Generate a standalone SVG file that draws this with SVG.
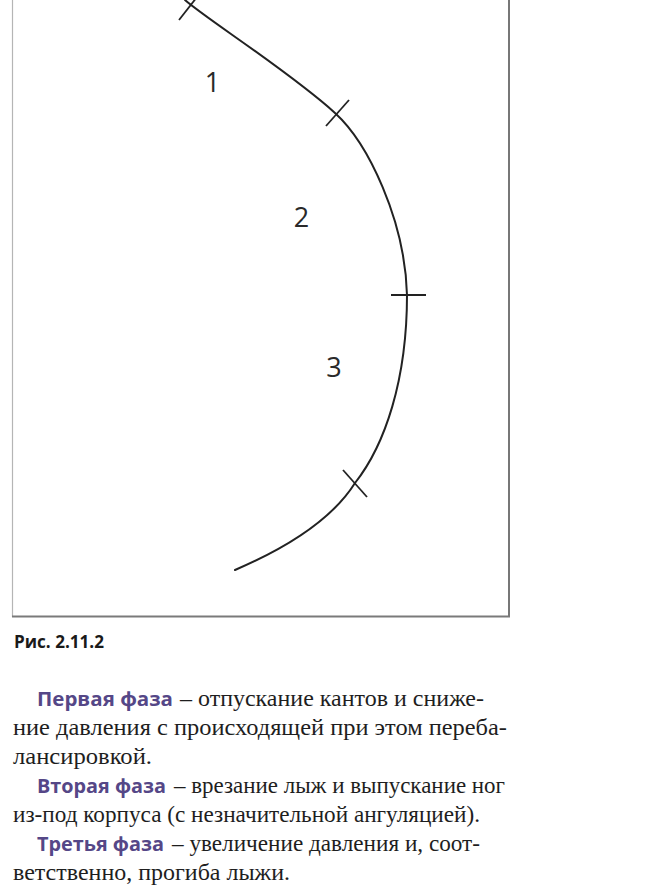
<svg xmlns="http://www.w3.org/2000/svg" width="649" height="890" viewBox="0 0 649 890">
<style>
.curve{fill:none;stroke:#222;stroke-width:2;stroke-linecap:round}
.tick{stroke:#222;stroke-width:1.8;stroke-linecap:butt}
.num{font-family:"Open Sans","Noto Sans",sans-serif;font-size:27px;fill:#2a2a2a;text-anchor:middle}
.cap{font-family:"Open Sans","Noto Sans",sans-serif;font-weight:bold;font-size:18px;fill:#1a1a1a}
.head{font-family:"Open Sans","Noto Sans",sans-serif;font-weight:bold;font-size:20px;fill:#554787}
.body{font-family:"Liberation Serif","DejaVu Serif",serif;font-size:22.5px;fill:#1e1e1e}
</style>
<rect width="649" height="890" fill="#ffffff"/>
<g id="frame">
<line x1="12.5" y1="0" x2="12.5" y2="617" stroke="#b5b5b5" stroke-width="1.2"/>
<line x1="509" y1="0" x2="509" y2="617" stroke="#555" stroke-width="1.6"/>
<line x1="12" y1="616.5" x2="510" y2="616.5" stroke="#7a7a7a" stroke-width="2"/>
</g>
<g id="connectors">
<path class="curve" d="M185,0 C205,18 290,72 335,113 C368,143 405,220 407,295 C407,380 385,445 355,483 C338,510 305,540 235,570"/>
</g>
<g id="tick1"><line class="tick" x1="179" y1="20" x2="197" y2="-3"/></g>
<g id="tick2"><line class="tick" x1="326" y1="126" x2="349" y2="100"/></g>
<g id="tick3"><line class="tick" x1="391" y1="295" x2="426" y2="295"/></g>
<g id="tick4"><line class="tick" x1="343" y1="470" x2="367" y2="497"/></g>
<g id="label1"><text class="num" x="212.5" y="92">1</text></g>
<g id="label2"><text class="num" x="301.5" y="227">2</text></g>
<g id="label3"><text class="num" x="334" y="377">3</text></g>
<g id="caption"><text class="cap" x="14" y="648" textLength="90" lengthAdjust="spacingAndGlyphs">Рис. 2.11.2</text></g>
<g id="paragraph">
<text class="head" x="37" y="706" textLength="136" lengthAdjust="spacingAndGlyphs">Первая фаза</text>
<text class="body" x="180" y="706" textLength="304" lengthAdjust="spacingAndGlyphs">– отпускание кантов и сниже-</text>
<text class="body" x="13" y="735" textLength="494" lengthAdjust="spacingAndGlyphs">ние давления с происходящей при этом переба-</text>
<text class="body" x="13" y="764" textLength="139" lengthAdjust="spacingAndGlyphs">лансировкой.</text>
<text class="head" x="37" y="793" textLength="129" lengthAdjust="spacingAndGlyphs">Вторая фаза</text>
<text class="body" x="174" y="793" textLength="331" lengthAdjust="spacingAndGlyphs">– врезание лыж и выпускание ног</text>
<text class="body" x="13" y="822" textLength="467" lengthAdjust="spacingAndGlyphs">из-под корпуса (с незначительной ангуляцией).</text>
<text class="head" x="37" y="851" textLength="127" lengthAdjust="spacingAndGlyphs">Третья фаза</text>
<text class="body" x="172" y="851" textLength="308" lengthAdjust="spacingAndGlyphs">– увеличение давления и, соот-</text>
<text class="body" x="13" y="880" textLength="277" lengthAdjust="spacingAndGlyphs">ветственно, прогиба лыжи.</text>
</g>
</svg>
